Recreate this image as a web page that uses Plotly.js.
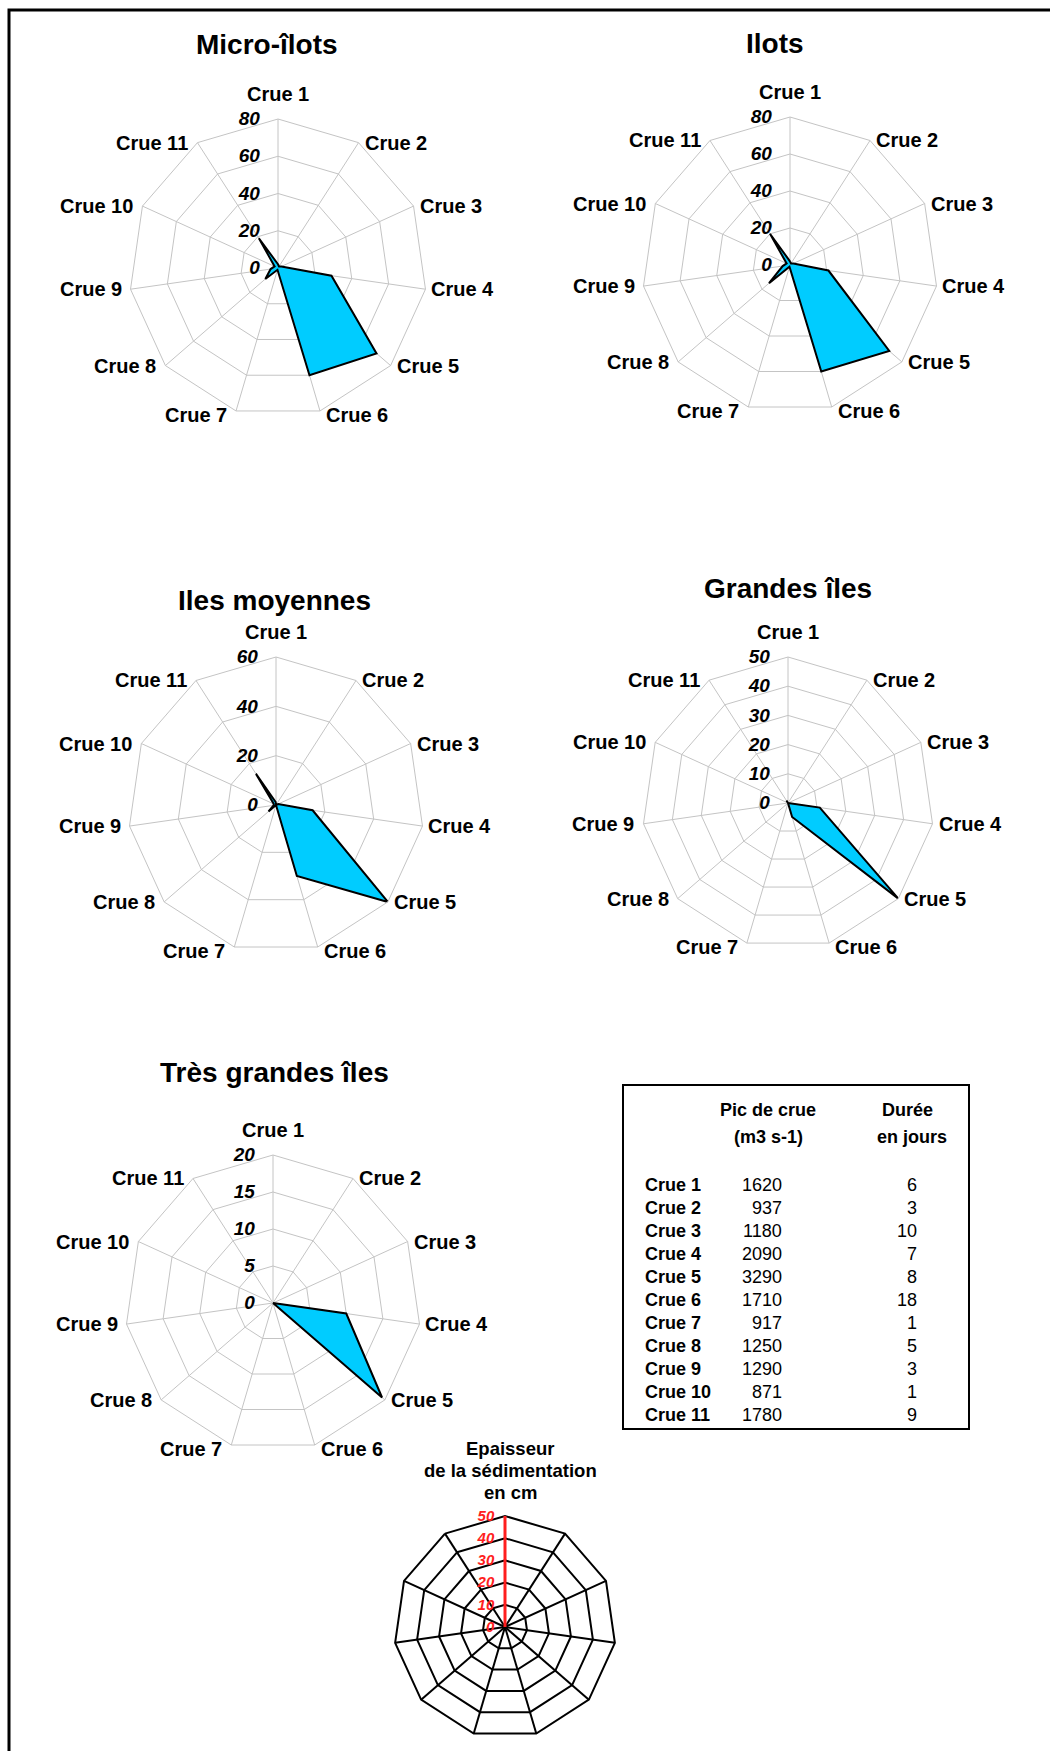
<!DOCTYPE html>
<html>
<head>
<meta charset="utf-8">
<script src="https://cdn.plot.ly/plotly-3.0.1.min.js"></script>
<style>
  html, body { margin: 0; padding: 0; background: #fff; }
  #chart { width: 1050px; height: 1751px; }
</style>
</head>
<body>
<div id="chart"></div>
<script>
'use strict';

const W = 1050, H = 1751;
const FONT = 'Liberation Sans, Arial, sans-serif';

// --- data ---
const crues = ['Crue 1', 'Crue 2', 'Crue 3', 'Crue 4', 'Crue 5', 'Crue 6',
               'Crue 7', 'Crue 8', 'Crue 9', 'Crue 10', 'Crue 11'];
const microIlots      = [2, 1, 2, 29, 70, 60, 1, 9, 4, 2, 19];
const ilots           = [2, 1, 2, 21, 71, 60, 1, 15, 4, 2, 20];
const ilesMoyennes    = [1, 0, 1, 15, 60, 30, 0, 4, 1, 1, 15];
const grandesIles     = [0, 0, 0, 11, 50, 5, 0, 0, 0, 0, 1];
const tresGrandesIles = [0, 0, 0, 10, 19.5, 0, 0, 0, 0, 0, 0];

const picCrue    = [1620, 937, 1180, 2090, 3290, 1710, 917, 1250, 1290, 871, 1780];
const dureeJours = [6, 3, 10, 7, 8, 18, 1, 5, 3, 1, 9];

const legendTitle = ['Epaisseur', 'de la sédimentation', 'en cm'];

// --- helpers (pixel -> paper) ---
const px = x => x / W;
const py = y => 1 - y / H;

function domainAt(cx, cy, r) {
    return { x: [px(cx - r), px(cx + r)], y: [py(cy + r), py(cy - r)] };
}

function polarLayout(cx, cy, r, rmax, dtick) {
    return {
        domain: domainAt(cx, cy, r),
        bgcolor: '#fff',
        gridshape: 'linear',
        radialaxis: {
            range: [0, rmax], tick0: 0, dtick,
            angle: 90, side: 'counterclockwise', tickangle: 90,
            showline: false,
            // invisible ticks only push the labels off the axis line
            ticks: 'outside', ticklen: 11, tickcolor: 'rgba(0,0,0,0)',
            gridcolor: '#c4c4c4', gridwidth: 1,
            tickfont: { family: FONT, size: 19, color: '#000', weight: 'bold', style: 'italic' },
        },
        angularaxis: {
            type: 'category', categoryarray: crues,
            direction: 'clockwise', rotation: 90,
            showline: true, linecolor: '#c4c4c4', linewidth: 1,
            gridcolor: '#c4c4c4', gridwidth: 1, ticks: '',
            showticklabels: false,
        },
    };
}

function radarTrace(vals, sub) {
    return {
        type: 'scatterpolar', subplot: sub,
        r: vals.concat([vals[0]]), theta: crues.concat([crues[0]]),
        mode: 'lines', fill: 'toself',
        fillcolor: 'rgb(0,204,255)',
        line: { color: '#000', width: 2 },
        hoverinfo: 'r+theta',
    };
}

const panels = [
    { sub: 'polar',  title: 'Micro-îlots',       vals: microIlots,      cx: 278, cy: 268, r: 149, rmax: 80, dtick: 20, tx: 267, ty: 45 },
    { sub: 'polar2', title: 'Ilots',             vals: ilots,           cx: 790, cy: 265, r: 148, rmax: 80, dtick: 20, tx: 775, ty: 43 },
    { sub: 'polar3', title: 'Iles moyennes',     vals: ilesMoyennes,    cx: 276, cy: 805, r: 148, rmax: 60, dtick: 20, tx: 274, ty: 600 },
    { sub: 'polar4', title: 'Grandes îles',      vals: grandesIles,     cx: 788, cy: 803, r: 146, rmax: 50, dtick: 10, tx: 788, ty: 588 },
    { sub: 'polar5', title: 'Très grandes îles', vals: tresGrandesIles, cx: 273, cy: 1303, r: 148, rmax: 20, dtick: 5, tx: 274, ty: 1072 },
];

const traces = [];
const layout = {
    width: W, height: H,
    margin: { l: 0, r: 0, t: 0, b: 0 },
    paper_bgcolor: '#fff',
    showlegend: false,
    font: { family: FONT, color: '#000' },
    annotations: [],
    shapes: [],
};

function addText(text, x, y, xanchor, yanchor, size, bold, color) {
    layout.annotations.push({
        xref: 'paper', yref: 'paper', x: px(x), y: py(y),
        xanchor, yanchor, showarrow: false,
        text, font: { family: FONT, size, weight: bold ? 'bold' : 'normal', color: color || '#000' },
    });
}

// category labels sit beside the web's corners, as in the original figure
function cornerLabels(cx, cy, r) {
    const n = crues.length;
    crues.forEach((c, k) => {
        const a = (90 - k * 360 / n) * Math.PI / 180;
        const vx = cx + r * Math.cos(a), vy = cy - r * Math.sin(a);
        const dy = Math.sin(a) < -0.9 ? 4 : 0;
        if (k === 0) addText(c, vx, vy - 12, 'center', 'bottom', 20, true);
        else if (Math.cos(a) > 0) addText(c, vx + 4, vy + dy, 'left', 'middle', 20, true);
        else addText(c, vx - 7, vy + dy, 'right', 'middle', 20, true);
    });
}

panels.forEach(p => {
    traces.push(radarTrace(p.vals, p.sub));
    layout[p.sub] = polarLayout(p.cx, p.cy, p.r, p.rmax, p.dtick);
    addText(p.title, p.tx, p.ty, 'center', 'middle', 28, true);
    cornerLabels(p.cx, p.cy, p.r);
});

// sedimentation-scale legend (empty web with red radial axis)
traces.push({
    type: 'scatterpolar', subplot: 'polar6',
    r: [], theta: [], mode: 'lines', hoverinfo: 'skip',
});
layout.polar6 = {
    domain: domainAt(505, 1627, 111),
    bgcolor: '#fff',
    gridshape: 'linear',
    radialaxis: {
        range: [0, 50], tick0: 0, dtick: 10,
        angle: 90, side: 'counterclockwise', tickangle: 90,
        showline: true, linecolor: 'rgb(255,30,30)', linewidth: 3,
        ticks: 'outside', ticklen: 4, tickcolor: 'rgba(0,0,0,0)',
        gridcolor: '#000', gridwidth: 2,
        tickfont: { family: FONT, size: 15, color: 'rgb(255,30,30)', weight: 'bold', style: 'italic' },
    },
    angularaxis: {
        type: 'category', categoryarray: crues,
        direction: 'clockwise', rotation: 90,
        showline: true, linecolor: '#000', linewidth: 2,
        gridcolor: '#000', gridwidth: 2, ticks: '', showticklabels: false,
    },
};
legendTitle.forEach((t, i) => addText(t, 510, 1448 + 22 * i, 'center', 'middle', 18.5, true));

// flood table
addText('Pic de crue', 768, 1110, 'center', 'middle', 18, true);
addText('(m3 s-1)', 768, 1137, 'center', 'middle', 18, true);
addText('Durée', 907, 1110, 'center', 'middle', 18, true);
addText('en jours', 912, 1137, 'center', 'middle', 18, true);
crues.forEach((c, i) => {
    const y = 1185 + 23 * i;
    addText(c, 643, y, 'left', 'middle', 18, true);
    addText(String(picCrue[i]), 784, y, 'right', 'middle', 18, false);
    addText(String(dureeJours[i]), 919, y, 'right', 'middle', 18, false);
});
layout.shapes.push({
    type: 'rect', xref: 'paper', yref: 'paper',
    x0: px(623), x1: px(969), y0: py(1085), y1: py(1429),
    line: { color: '#000', width: 2 },
});

// outer frame (cut off at right and bottom)
layout.shapes.push({
    type: 'rect', xref: 'paper', yref: 'paper',
    x0: px(9), x1: px(1060), y0: py(10), y1: py(1770),
    line: { color: '#000', width: 3 },
});

Plotly.newPlot('chart', traces, layout, { staticPlot: true });
</script>
</body>
</html>
